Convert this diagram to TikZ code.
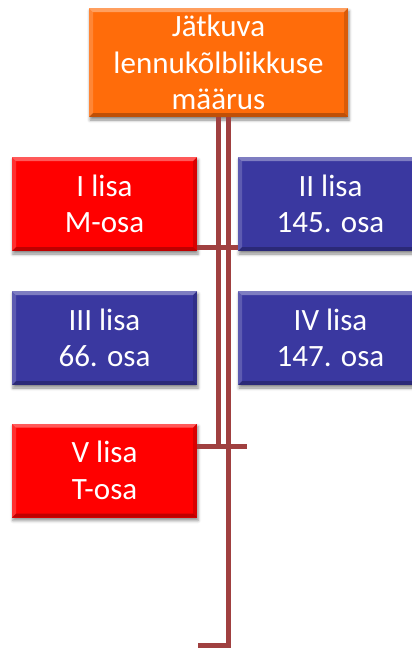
\documentclass[tikz,border=0pt]{standalone}
\usepackage{fontspec}
\setmainfont{Carlito}
\usepackage{tikz}
\usetikzlibrary{shadows.blur}

\definecolor{topcol}{RGB}{255,108,10}
\definecolor{redcol}{RGB}{255,0,0}
\definecolor{bluecol}{RGB}{58,56,160}
\definecolor{linkcol}{RGB}{160,64,64}

\tikzset{
  bevel/.style={path picture={
    \fill[white,opacity=0.35] (path picture bounding box.north west) -- (path picture bounding box.north east)
      -- ([xshift=-4pt,yshift=-4pt]path picture bounding box.north east) -- ([xshift=4pt,yshift=-4pt]path picture bounding box.north west) -- cycle;
    \fill[white,opacity=0.18] (path picture bounding box.north west) -- ([xshift=4pt,yshift=-4pt]path picture bounding box.north west)
      -- ([xshift=4pt,yshift=4pt]path picture bounding box.south west) -- (path picture bounding box.south west) -- cycle;
    \fill[black,opacity=0.25] (path picture bounding box.south west) -- (path picture bounding box.south east)
      -- ([xshift=-4pt,yshift=4pt]path picture bounding box.south east) -- ([xshift=4pt,yshift=4pt]path picture bounding box.south west) -- cycle;
    \fill[black,opacity=0.15] (path picture bounding box.north east) -- ([xshift=-4pt,yshift=-4pt]path picture bounding box.north east)
      -- ([xshift=-4pt,yshift=4pt]path picture bounding box.south east) -- (path picture bounding box.south east) -- cycle;
  }},
  lisa/.style={rectangle, fill=#1, bevel, text=white, align=center,
    minimum width=185pt, minimum height=94pt, inner sep=0pt,
    font=\fontsize{31}{36.6}\selectfont,
    blur shadow={shadow xshift=1pt, shadow yshift=-3pt, shadow blur radius=3pt, shadow opacity=45}},
  link/.style={draw=linkcol, line width=5pt}
}

\begin{document}
\begin{tikzpicture}[x=1pt,y=-1pt]
  \useasboundingbox (0,0) rectangle (412,648);
  \clip (0,0) rectangle (412,648);

  \node[lisa=topcol, minimum width=259pt, minimum height=109pt] (maarus) at (218.5,62.5) {Jätkuva\\lennukõlblikkuse\\määrus};

  \node[lisa=redcol] (lisa1) at (104.5,204) {I lisa\\M-osa};
  \node[lisa=bluecol] (lisa2) at (330.5,204) {II lisa\\145. osa};
  \node[lisa=bluecol] (lisa3) at (104.5,338) {III lisa\\66. osa};
  \node[lisa=bluecol] (lisa4) at (330.5,338) {IV lisa\\147. osa};
  \node[lisa=redcol] (lisa5) at (104.5,470.5) {V lisa\\T-osa};

  % connectors
  \coordinate (trunkL) at (218,446);
  \coordinate (trunkR) at (228,645);
  \coordinate (foot) at (198,645);
  \coordinate (row1) at (0,247);
  \coordinate (tail) at (247,446);
  \draw[link] (maarus.south -| trunkL) -- (trunkL);
  \draw[link] (maarus.south -| trunkR) -- (trunkR) -- (foot);
  \draw[link] (lisa1.east |- row1) -- (lisa2.west |- row1);
  \draw[link] (lisa5.east |- tail) -- (tail);
\end{tikzpicture}
\end{document}
